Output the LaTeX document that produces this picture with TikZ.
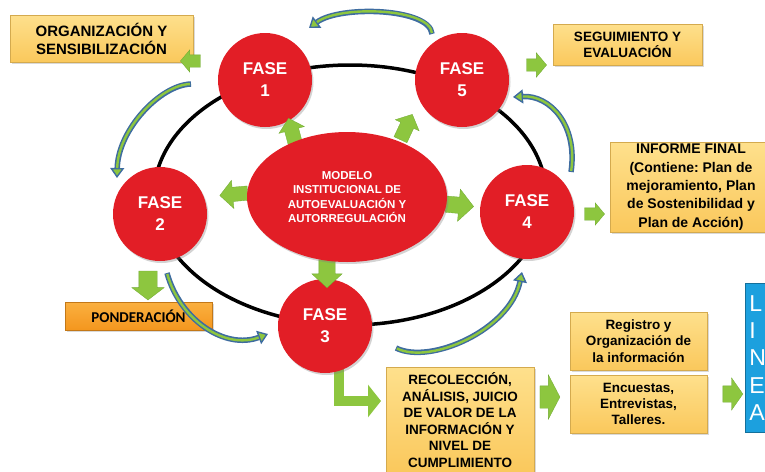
\documentclass[tikz,border=0pt]{standalone}
\usepackage{fontspec}
\setmainfont{Liberation Sans}
\newfontfamily\calfont{Carlito}
\usetikzlibrary{shapes.geometric,shapes.arrows,shadows,arrows.meta}
\definecolor{fred}{RGB}{226,30,38}
\definecolor{cgreen}{RGB}{141,198,63}
\definecolor{dgreen}{RGB}{112,170,50}
\definecolor{cblue}{RGB}{62,108,160}
\definecolor{boxtop}{RGB}{254,224,140}
\definecolor{boxbot}{RGB}{250,200,92}
\definecolor{pondtop}{RGB}{250,176,64}
\definecolor{pondbot}{RGB}{244,150,30}
\definecolor{lblue}{RGB}{28,160,222}
\frenchspacing
\begin{document}
\begin{tikzpicture}[x=1pt,y=-1pt,
  fase/.style={circle, fill=fred, minimum size=94pt, inner sep=0pt, text=white,
    font=\bfseries\fontsize{17}{22}\selectfont, align=center,
    drop shadow={opacity=0.35,shadow xshift=1.5pt,shadow yshift=-2pt}},
  ybox/.style={rectangle, top color=boxtop, bottom color=boxbot, draw=boxbot!85!black,
    line width=0.4pt, inner sep=0pt, align=center,
    drop shadow={opacity=0.3,shadow xshift=1.5pt,shadow yshift=-1.5pt}},
  garrow/.style={single arrow, fill=cgreen, draw=dgreen, line width=0.3pt, inner xsep=0pt},
  cyc/.style={draw=cblue, line width=5.5pt,
    -{Triangle[width=14pt,length=10pt,fill=cgreen,line width=1.4pt]},
    postaction={draw=cgreen, line width=2.4pt, arrows=-, shorten >=10pt, shorten <=1pt}},
]
\clip (0,0) rectangle (765,471);

% big black ring
\node[ellipse, draw=black, line width=3.5pt, minimum width=392pt, minimum height=260pt, inner sep=0pt] (ring) at (350,195) {};

% L-shaped arrow from Fase 3
\coordinate (lstart) at (339,360);
\coordinate (lend) at (381,401);
\draw[cgreen, line width=10pt, -{Triangle[width=32pt,length=13pt]}] (lstart) |- (lend);

% boxes
\node[ybox, minimum width=183pt, minimum height=47pt, font=\bfseries\fontsize{15}{18}\selectfont] (org) at (101.5,38.5) {ORGANIZACIÓN Y\\SENSIBILIZACIÓN};
\node[ybox, minimum width=149pt, minimum height=41pt, font=\bfseries\fontsize{13.5}{16}\selectfont] (seg) at (627.5,44.5) {SEGUIMIENTO Y\\EVALUACIÓN};
\node[ybox, minimum width=162pt, minimum height=90pt, font=\bfseries\fontsize{14}{18.3}\selectfont] (inf) at (691,187) {INFORME FINAL\\(Contiene: Plan de\\mejoramiento, Plan\\de Sostenibilidad y\\Plan de Acción)};
\node[rectangle, top color=pondtop, bottom color=pondbot, draw=pondbot!80!black, line width=0.4pt,
  minimum width=147pt, minimum height=28pt, inner sep=0pt,
  font=\calfont\bfseries\fontsize{15}{18}\selectfont,
  drop shadow={opacity=0.3,shadow xshift=1.5pt,shadow yshift=-1.5pt}] (pond) at (138.5,316) {PONDERACIÓN};
\node[ybox, minimum width=148pt, minimum height=106pt, font=\bfseries\fontsize{13.5}{16.6}\selectfont] (rec) at (460,420) {RECOLECCIÓN,\\ANÁLISIS, JUICIO\\DE VALOR DE LA\\INFORMACIÓN Y\\NIVEL DE\\CUMPLIMIENTO};
\node[ybox, minimum width=137pt, minimum height=58pt, font=\bfseries\fontsize{13.5}{16.2}\selectfont] (reg) at (638.5,341) {Registro y\\Organización de\\la información};
\node[ybox, minimum width=137pt, minimum height=58pt, font=\bfseries\fontsize{13.5}{16.2}\selectfont] (enc) at (638.5,404) {Encuestas,\\Entrevistas,\\Talleres.};
\node[rectangle, fill=lblue, draw=lblue!70!black, line width=0.6pt, anchor=north west,
  text width=40pt, inner xsep=4pt, inner ysep=5pt, minimum height=149pt, align=left, text=white,
  font=\fontsize{23}{27.3}\selectfont] (linea) at (745,283) {L\\I\\N\\E\\A};

% cycle arrows
\coordinate (c5s) at (432,34);  \coordinate (c1e) at (309,28);
\coordinate (c1s) at (191,84);  \coordinate (c2e) at (117,178);
\coordinate (c2s) at (167,273); \coordinate (c3e) at (268,334);
\coordinate (c3s) at (396,348); \coordinate (c4e) at (522,272);
\coordinate (c4s) at (571,172); \coordinate (c5e) at (513,97);
\draw[cyc] (c5s) .. controls (430,8) and (340,5) .. (c1e);
\draw[cyc] (c1s) .. controls (160,85) and (118,130) .. (c2e);
\draw[cyc] (c2s) .. controls (180,320) and (225,350) .. (c3e);
\draw[cyc] (c3s) .. controls (430,365) and (510,330) .. (c4e);
\draw[cyc] (c4s) .. controls (578,125) and (550,95) .. (c5e);

% phase circles
\node[fase] (f1) at (265,80) {FASE\\1};
\node[fase] (f5) at (462,80) {FASE\\5};
\node[fase] (f2) at (160,214) {FASE\\2};
\node[fase] (f4) at (527,212) {FASE\\4};
\node[fase] (f3) at (325,326) {FASE\\3};

% arrows from centre
\node[garrow, inner ysep=7pt, minimum height=28pt, single arrow head extend=6pt, single arrow tip angle=95, rotate=105] (a1) at (293,135) {};
\node[garrow, inner ysep=7pt, minimum height=28pt, single arrow head extend=6pt, single arrow tip angle=95, rotate=65] (a5) at (405,130) {};
\node[garrow, inner ysep=7pt, minimum height=28pt, single arrow head extend=7pt, single arrow tip angle=95, rotate=185] (a2) at (237,194) {};
\node[garrow, inner ysep=8pt, minimum height=28pt, single arrow head extend=8pt, single arrow tip angle=95, rotate=-5] (a4) at (456,205) {};
\node[garrow, inner ysep=8pt, minimum height=28pt, single arrow head extend=7pt, single arrow tip angle=95, rotate=-90] (a3) at (327,270) {};

% central ellipse
\node[ellipse, fill=fred, minimum width=200pt, minimum height=130pt, inner sep=0pt, text=white, align=center,
  font=\bfseries\fontsize{11.5}{14.5}\selectfont,
  drop shadow={opacity=0.35,shadow xshift=1.5pt,shadow yshift=-2pt}] (model) at (347,197)
  {MODELO\\INSTITUCIONAL DE\\AUTOEVALUACIÓN Y\\AUTORREGULACIÓN};

% small outer arrows
\node[garrow, inner ysep=6pt, minimum height=20pt, single arrow head extend=5pt, single arrow tip angle=100, rotate=180] (o1) at (193,61) {};
\node[garrow, inner ysep=6pt, minimum height=20pt, single arrow head extend=6pt, single arrow tip angle=100] (o5) at (534,65) {};
\node[garrow, inner ysep=6pt, minimum height=20pt, single arrow head extend=5pt, single arrow tip angle=100] (o4) at (592,214) {};
\node[garrow, inner ysep=9pt, minimum height=29pt, single arrow head extend=7pt, single arrow tip angle=105, rotate=-90] (o2) at (148,282) {};
\node[garrow, inner ysep=11pt, minimum height=20pt, single arrow head extend=11pt, single arrow tip angle=125] (o3) at (547,397) {};
\node[garrow, inner ysep=8pt, minimum height=20pt, single arrow head extend=8pt, single arrow tip angle=110] (o6) at (730,394) {};
\end{tikzpicture}
\end{document}
